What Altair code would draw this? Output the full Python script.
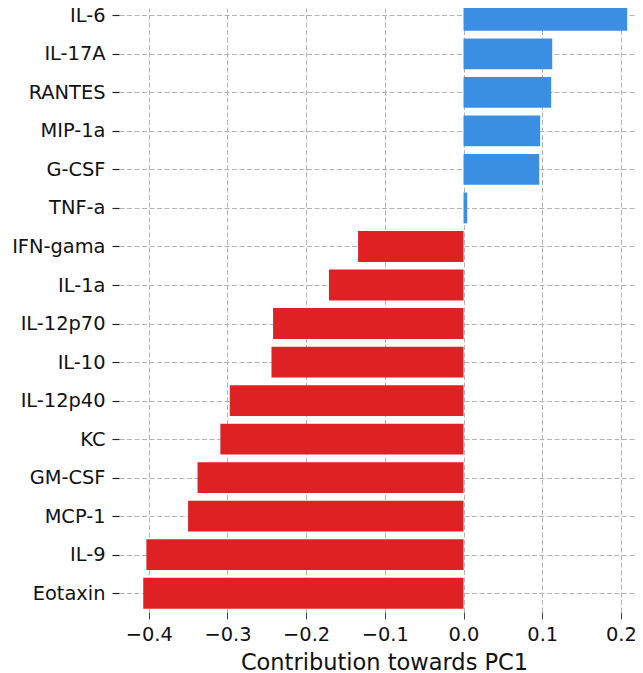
import altair as alt
import pandas as pd

cytokines = ["IL-6", "IL-17A", "RANTES", "MIP-1a", "G-CSF", "TNF-a", "IFN-gama",
             "IL-1a", "IL-12p70", "IL-10", "IL-12p40", "KC", "GM-CSF", "MCP-1",
             "IL-9", "Eotaxin"]
contributions = [0.208, 0.1127, 0.1114, 0.0974, 0.0962, 0.0047, -0.134,
                 -0.171, -0.242, -0.244, -0.297, -0.309, -0.338, -0.350,
                 -0.403, -0.407]
x_ticks = [-0.4, -0.3, -0.2, -0.1, 0.0, 0.1, 0.2]

df = pd.DataFrame({
    "name": cytokines,
    "idx": list(range(len(cytokines))),
    "value": contributions,
})
df["sign"] = ["pos" if v >= 0 else "neg" for v in contributions]

label_array = "[" + ",".join("'" + c + "'" for c in cytokines) + "]"

FONT = "DejaVu Sans"

bars = alt.Chart(df).transform_calculate(
    lo="datum.idx - 0.4", hi="datum.idx + 0.4"
).mark_bar(clip=True, cornerRadius=0).encode(
    x=alt.X("value:Q",
            scale=alt.Scale(domain=[-0.4378, 0.2179], nice=False, zero=False),
            axis=alt.Axis(values=x_ticks, title="Contribution towards PC1",
                          labelExpr="replace(format(datum.value, '.1f'), '-', '\u2212')",
                          domain=False, tickSize=7, tickColor="#444", tickWidth=1,
                          labelFontSize=19.4, labelFont=FONT, labelColor="#111",
                          labelPadding=6, labelFlush=False,
                          titleFontSize=22.5, titleFont=FONT, titleFontWeight="normal",
                          titleColor="#111", titleX=265, titleY=57,
                          titleBaseline="alphabetic", titleAlign="center", titleAnchor="start",
                          grid=True, gridDash=[5, 2.5], gridColor="#b3b3b3", gridWidth=1)),
    x2=alt.datum(0),
    y=alt.Y("lo:Q",
            scale=alt.Scale(domain=[-0.1895, 15.487], nice=False, zero=False, reverse=True),
            axis=alt.Axis(values=list(range(len(cytokines))), title=None,
                          labelExpr=label_array + "[datum.value]",
                          domain=False, tickSize=7, tickColor="#222", tickWidth=1.2,
                          labelFontSize=19.4, labelFont=FONT, labelColor="#111",
                          labelPadding=7, labelFlush=False, labelBaseline="middle",
                          grid=True, gridDash=[5, 2.5], gridColor="#b3b3b3", gridWidth=1)),
    y2="hi:Q",
    color=alt.Color("sign:N",
                    scale=alt.Scale(domain=["pos", "neg"], range=["#3b8fe2", "#df2124"]),
                    legend=None),
)

chart = bars.properties(
    width=516, height=604,
    background="white",
    autosize=alt.AutoSizeParams(type="none"),
    padding={"left": 111, "top": 0, "right": 0, "bottom": 62},
).configure_view(strokeWidth=0, stroke="transparent")

chart.save("out.html", embed_options={"renderer": "svg", "actions": False})
